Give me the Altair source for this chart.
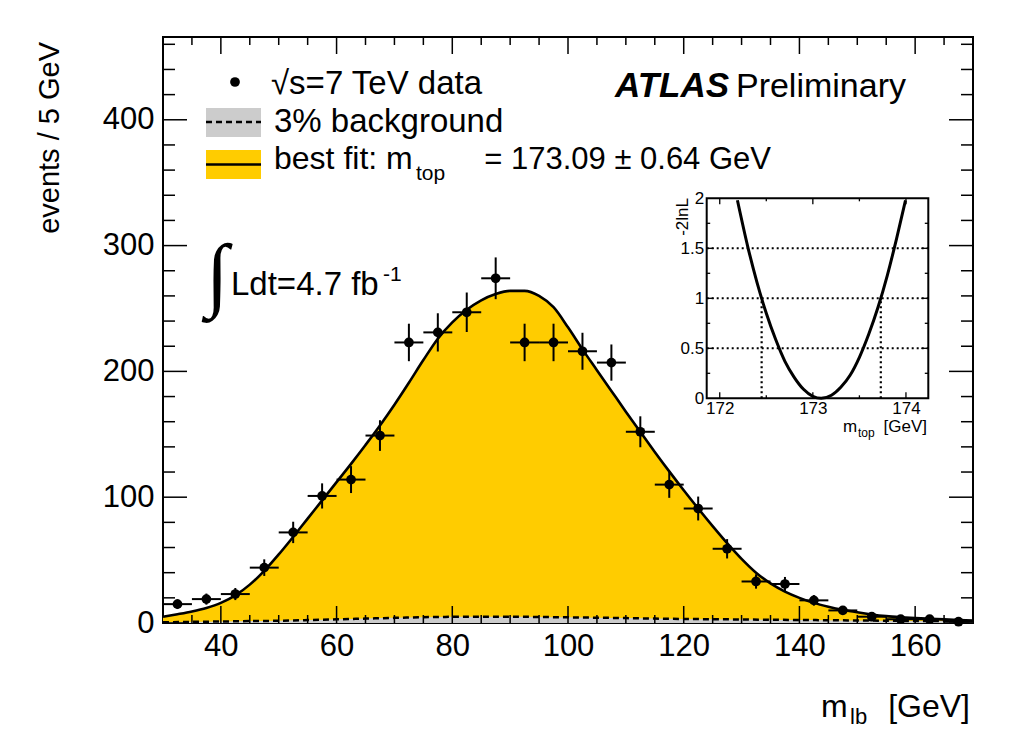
import altair as alt
import pandas as pd

# ---------------- data ----------------
bin_centers = [32.5, 37.5, 42.5, 47.5, 52.5, 57.5, 62.5, 67.5, 72.5, 77.5,
               82.5, 87.5, 92.5, 97.5, 102.5, 107.5, 112.5, 117.5, 122.5, 127.5,
               132.5, 137.5, 142.5, 147.5, 152.5, 157.5, 162.5, 167.5]
events = [15, 19, 23, 44, 72, 101, 114, 149, 223, 231,
          247, 274, 223, 223, 216, 207, 152, 110, 91, 59,
          33, 31, 18, 10, 5, 3, 3, 1]
errors = [3.9, 4.4, 4.8, 6.6, 8.5, 10.0, 10.7, 12.2, 14.9, 15.2,
          15.7, 16.6, 14.9, 14.9, 14.7, 14.4, 12.3, 10.5, 9.5, 7.7,
          5.7, 5.6, 4.2, 3.2, 2.2, 1.7, 1.7, 1.0]
bin_half_width = 2.5

fit_x = [30, 32.5, 35, 37.5, 40, 42.5, 45, 47.5, 50, 52.5, 55, 57.5, 60, 62.5,
         65, 67.5, 70, 72.5, 75, 77.5, 80, 82.5, 85, 87.5, 90, 92.5, 95, 97.5,
         100, 102.5, 105, 107.5, 110, 112.5, 115, 117.5, 120, 122.5, 125, 127.5,
         130, 132.5, 135, 137.5, 140, 142.5, 145, 147.5, 150, 152.5, 155, 157.5,
         160, 162.5, 165, 167.5, 170]
fit_y = [5, 7, 9.2, 12, 16, 22, 30.5, 41.5, 54.5, 68.5, 83, 97.5, 112, 126.5,
         141.5, 157, 173.5, 191, 209, 226, 239, 249, 256.5, 261.5, 264, 264, 260, 251,
         235, 217.5, 201, 184.5, 168, 152, 136, 120.5, 105.5, 91, 77, 63.5,
         51, 40, 31.5, 25, 20, 16, 13, 10.5, 8.5, 6.8, 5.5, 4.6,
         3.9, 3.4, 2.9, 2.4, 2]

bkg_x = [30, 35, 40, 45, 50, 55, 60, 65, 70, 75, 80, 85, 90, 95, 100, 105, 110,
         115, 120, 125, 130, 135, 140, 145, 150, 155, 160, 165, 170]
bkg_y = [0.5, 0.9, 1.2, 1.5, 1.8, 2.3, 2.9, 3.5, 4.1, 4.6, 4.9, 5.0, 5.0, 4.8,
         4.5, 4.2, 3.9, 3.5, 3.2, 3.0, 2.8, 2.6, 2.4, 2.2, 2.0, 1.8, 1.6, 1.5, 1.3]

# inset: -2lnL scan
scan_m = [172.19, 172.3, 172.4, 172.5, 172.6, 172.7, 172.8, 172.9, 173.0, 173.09,
          173.2, 173.3, 173.4, 173.5, 173.6, 173.7, 173.8, 173.9, 173.995]
scan_nll = [1.98, 1.52, 1.16, 0.85, 0.59, 0.37, 0.21, 0.09, 0.02, 0.0,
            0.03, 0.11, 0.23, 0.41, 0.64, 0.91, 1.23, 1.60, 1.98]
scan_err_lo, scan_err_hi = 172.45, 173.73
scan_grid = [0.5, 1.0, 1.5]

# axes
x_domain = [30, 170]
y_domain = [0, 465.8]
x_major = [40, 60, 80, 100, 120, 140, 160]
x_minor = [35, 45, 50, 55, 65, 70, 75, 85, 90, 95, 105, 110, 115, 125, 130, 135,
           145, 150, 155, 165]
y_major = [0, 100, 200, 300, 400]
y_minor = [20, 40, 60, 80, 120, 140, 160, 180, 220, 240, 260, 280, 320, 340,
           360, 380, 420, 440, 460]
ix_domain = [171.86, 174.24]
iy_domain = [0, 2]
ix_major = [172, 173, 174]
ix_minor = [172.5, 173.5]
iy_major = [0.5, 1.0, 1.5]
iy_minor = [0.25, 0.75, 1.25, 1.75]
iy_labels = [0, 0.5, 1, 1.5, 2]

# texts
legend_labels = ["\u221as=7 TeV data", "3% background", "best fit: m", "top",
                 "= 173.09 \u00b1 0.64 GeV"]
atlas_label = ["ATLAS", "Preliminary"]
lumi_label = ["\u222b", "Ldt=4.7 fb", "-1"]
x_title = ["m", "lb", "[GeV]"]
y_title = "events / 5 GeV"
inset_x_title = ["m", "top", "[GeV]"]
inset_y_title = "-2lnL"

# ---------------- layout constants ----------------
FONT = "Liberation Sans"
OX, OY = 163, 37          # plot origin on the page
W, H = 810, 586           # main plot area
IX0, IX1 = 706.7 - OX, 928.3 - OX
IY0, IY1 = 398.3 - OY, 198.3 - OY
YELLOW = "#FFCC00"
GREY = "#CCCCCC"

xs = alt.Scale(domain=x_domain, nice=False, zero=False)
ys = alt.Scale(domain=y_domain, nice=False, zero=False)
xaxis = alt.Axis(values=x_major, ticks=False, domain=False, grid=False, title=None,
                 labelFont=FONT, labelFontSize=31, labelColor="black",
                 labelPadding=8, labelFlush=False, labelOverlap=False, orient="bottom")
yaxis = alt.Axis(values=y_major, ticks=False, domain=False, grid=False, title=None,
                 labelFont=FONT, labelFontSize=31, labelColor="black",
                 labelPadding=9, labelFlush=False, labelOverlap=False, orient="left")

ixs = alt.Scale(domain=ix_domain, range=[IX0, IX1], nice=False, zero=False)
iys = alt.Scale(domain=iy_domain, range=[IY0, IY1], nice=False, zero=False)
ixaxis = alt.Axis(values=ix_major, ticks=False, domain=False, grid=False, title=None,
                  labelFont=FONT, labelFontSize=17, labelColor="black",
                  labelPadding=2, labelFlush=False, labelOverlap=False,
                  orient="bottom", offset=-(H - IY0))
iyaxis = alt.Axis(values=iy_labels, format="~g", ticks=False, domain=False, grid=False,
                  title=None, labelFont=FONT, labelFontSize=17, labelColor="black",
                  labelPadding=3, labelFlush=False, labelOverlap=False,
                  orient="left", offset=-IX0)

def X(f):
    return alt.X(f, type="quantitative", scale=xs, axis=xaxis)

def Y(f):
    return alt.Y(f, type="quantitative", scale=ys, axis=yaxis)

def IXe(f):
    return alt.X(f, type="quantitative", scale=ixs, axis=ixaxis)

def IYe(f):
    return alt.Y(f, type="quantitative", scale=iys, axis=iyaxis)

one = pd.DataFrame({"a": [0]})

def text(t, x, y, size, align="left", baseline="alphabetic", angle=0,
         weight="normal", style="normal", font=FONT):
    return alt.Chart(one).mark_text(
        align=align, baseline=baseline, angle=angle, fontSize=size,
        font=font, fontWeight=weight, fontStyle=style, color="black"
    ).encode(x=alt.value(x - OX), y=alt.value(y - OY), text=alt.value(t))

# ---------------- data frames ----------------
fit_df = pd.DataFrame({"m": fit_x, "f": fit_y})
bkg_df = pd.DataFrame({"m": bkg_x, "b": bkg_y})
pts = pd.DataFrame({"c": bin_centers, "n": events, "e": errors})
pts["lo"] = pts["n"] - pts["e"]
pts["hi"] = pts["n"] + pts["e"]
pts["xl"] = pts["c"] - bin_half_width
pts["xh"] = pts["c"] + bin_half_width

layers = []
layers.append(alt.Chart(fit_df).mark_area(color=YELLOW, interpolate="monotone", opacity=1)
              .encode(x=X("m"), y=Y("f")))
layers.append(alt.Chart(bkg_df).mark_area(color=GREY, interpolate="monotone", opacity=1)
              .encode(x=X("m"), y=Y("b")))
layers.append(alt.Chart(bkg_df).mark_line(color="black", strokeWidth=2.5,
                                          strokeDash=[6, 4], interpolate="monotone")
              .encode(x=X("m"), y=Y("b")))
layers.append(alt.Chart(fit_df).mark_line(color="black", strokeWidth=2.6, interpolate="monotone")
              .encode(x=X("m"), y=Y("f")))
layers.append(alt.Chart(pts).mark_rule(color="black", strokeWidth=2)
              .encode(x=X("c"), y=Y("lo"), y2="hi"))
layers.append(alt.Chart(pts).mark_rule(color="black", strokeWidth=2)
              .encode(x=X("xl"), x2="xh", y=Y("n")))
layers.append(alt.Chart(pts).mark_circle(color="black", size=95, opacity=1)
              .encode(x=X("c"), y=Y("n")))

# main ticks (inside the frame)
def xticks(vals, length):
    d = pd.DataFrame({"v": vals})
    bot = alt.Chart(d).mark_rule(color="black", strokeWidth=1.5).encode(
        x=X("v"), y=alt.value(H), y2=alt.value(H - length))
    top = alt.Chart(d).mark_rule(color="black", strokeWidth=1.5).encode(
        x=X("v"), y=alt.value(0), y2=alt.value(length))
    return [bot, top]

def yticks(vals, length):
    d = pd.DataFrame({"v": vals})
    lef = alt.Chart(d).mark_rule(color="black", strokeWidth=1.5).encode(
        y=Y("v"), x=alt.value(0), x2=alt.value(length))
    rig = alt.Chart(d).mark_rule(color="black", strokeWidth=1.5).encode(
        y=Y("v"), x=alt.value(W), x2=alt.value(W - length))
    return [lef, rig]

layers += xticks(x_major, 17) + xticks(x_minor, 8)
layers += yticks(y_major, 24) + yticks(y_minor, 12)

# legend
layers.append(alt.Chart(one).mark_rect(color=GREY).encode(
    x=alt.value(206 - OX), x2=alt.value(261 - OX), y=alt.value(108 - OY), y2=alt.value(137 - OY)))
layers.append(alt.Chart(one).mark_rule(color="black", strokeWidth=2.5, strokeDash=[6, 4]).encode(
    x=alt.value(206 - OX), x2=alt.value(261 - OX), y=alt.value(122 - OY)))
layers.append(alt.Chart(one).mark_rect(color=YELLOW).encode(
    x=alt.value(206 - OX), x2=alt.value(261 - OX), y=alt.value(150 - OY), y2=alt.value(179 - OY)))
layers.append(alt.Chart(one).mark_rule(color="black", strokeWidth=2.6).encode(
    x=alt.value(206 - OX), x2=alt.value(261 - OX), y=alt.value(164.5 - OY)))
layers.append(alt.Chart(one).mark_circle(color="black", size=95, opacity=1).encode(
    x=alt.value(235 - OX), y=alt.value(82 - OY)))

layers.append(text(legend_labels[0], 271, 94, 33))
layers.append(text(legend_labels[1], 274, 132, 33))
layers.append(text(legend_labels[2], 274, 169, 32))
layers.append(text(legend_labels[3], 416, 180, 21))
layers.append(text(legend_labels[4], 771, 169, 31, align="right"))

layers.append(text(atlas_label[0], 615, 97, 35, weight="bold", style="italic"))
layers.append(text(atlas_label[1], 906, 97, 34, align="right"))

layers.append(text(lumi_label[0], 206, 301, 82, font="Liberation Serif"))
layers.append(text(lumi_label[1], 231, 295, 33))
layers.append(text(lumi_label[2], 383, 281, 21))

layers.append(text(x_title[0], 821, 717, 32))
layers.append(text(x_title[1], 850, 724, 22))
layers.append(text(x_title[2], 970, 717, 32, align="right"))
layers.append(text(y_title, 50, 42, 29, align="right", baseline="middle", angle=270))

main = alt.layer(*layers)

# ---------------- inset ----------------
frame_df = pd.DataFrame({"x0": [ix_domain[0]], "x1": [ix_domain[1]],
                         "y0": [iy_domain[0]], "y1": [iy_domain[1]]})
grid_df = pd.DataFrame({"v": scan_grid, "x0": ix_domain[0], "x1": ix_domain[1]})
vert_df = pd.DataFrame({"v": [scan_err_lo, scan_err_hi], "y0": 0.0, "y1": 1.0})
scan_df = pd.DataFrame({"m": scan_m, "nll": scan_nll})

ilayers = []
ilayers.append(alt.Chart(frame_df).mark_rect(fill="white", stroke="black", strokeWidth=2)
               .encode(x=IXe("x0"), x2="x1", y=IYe("y0"), y2="y1"))
ilayers.append(alt.Chart(grid_df).mark_rule(color="black", strokeWidth=2, strokeDash=[2, 3])
               .encode(x=IXe("x0"), x2="x1", y=IYe("v")))
ilayers.append(alt.Chart(vert_df).mark_rule(color="black", strokeWidth=2.2, strokeDash=[2, 3])
               .encode(x=IXe("v"), y=IYe("y0"), y2="y1"))
ilayers.append(alt.Chart(scan_df).mark_line(color="black", strokeWidth=3, interpolate="monotone")
               .encode(x=IXe("m"), y=IYe("nll")))

def ixticks(vals, length):
    d = pd.DataFrame({"v": vals})
    return [alt.Chart(d).mark_rule(color="black", strokeWidth=1.3).encode(
                x=IXe("v"), y=alt.value(IY0), y2=alt.value(IY0 - length)),
            alt.Chart(d).mark_rule(color="black", strokeWidth=1.3).encode(
                x=IXe("v"), y=alt.value(IY1), y2=alt.value(IY1 + length))]

def iyticks(vals, length):
    d = pd.DataFrame({"v": vals})
    return [alt.Chart(d).mark_rule(color="black", strokeWidth=1.3).encode(
                y=IYe("v"), x=alt.value(IX0), x2=alt.value(IX0 + length)),
            alt.Chart(d).mark_rule(color="black", strokeWidth=1.3).encode(
                y=IYe("v"), x=alt.value(IX1), x2=alt.value(IX1 - length))]

ilayers += ixticks(ix_major, 6) + ixticks(ix_minor, 3)
ilayers += iyticks(iy_major, 7) + iyticks(iy_minor, 3.5)

ilayers.append(text(inset_x_title[0], 843, 432, 17))
ilayers.append(text(inset_x_title[1], 858, 437, 12))
ilayers.append(text(inset_x_title[2], 927, 432, 17, align="right"))
ilayers.append(text(inset_y_title, 683, 198, 17, align="right", baseline="middle", angle=270))

inset = alt.layer(*ilayers)

chart = alt.layer(main, inset).resolve_scale(x="independent", y="independent").properties(
    width=W, height=H,
    padding={"left": OX, "top": OY, "right": 1024 - OX - W, "bottom": 742 - OY - H},
    autosize=alt.AutoSizeParams(type="none"),
    background="white",
).configure_view(stroke="black", strokeWidth=2)

chart.save("out.html", embed_options={"renderer": "svg", "actions": False})
